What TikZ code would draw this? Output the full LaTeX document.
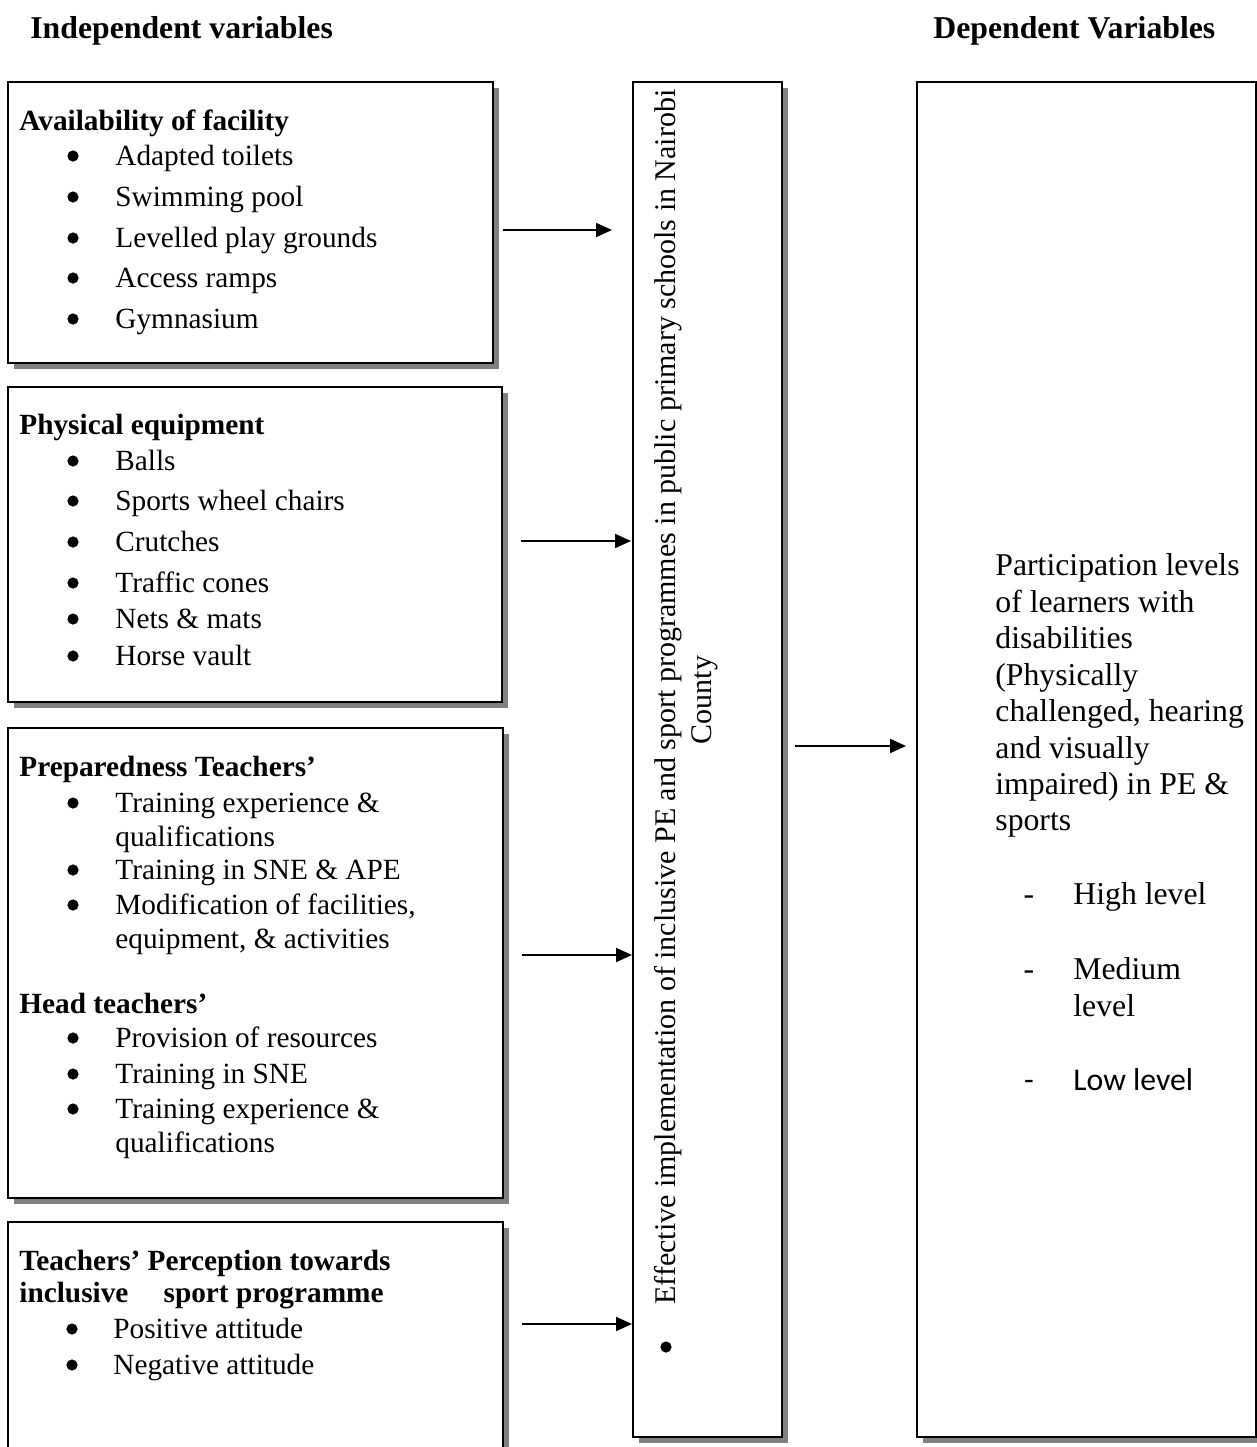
\documentclass[tikz,border=0pt]{standalone}
\usepackage{fontspec}
\setmainfont{Liberation Serif}
\newfontfamily\calfont{Carlito}
\usetikzlibrary{arrows.meta,shadows,fit}
\newcommand\fsA{\fontsize{14.65}{17}\selectfont}
\newcommand\fsB{\fontsize{15.87}{18}\selectfont}
\newcommand\fsV{\fontsize{15.0}{18}\selectfont}
\tikzset{
  box/.style={draw=black, line width=1.1pt, fill=white, inner sep=0pt,
    drop shadow={shadow xshift=3pt, shadow yshift=-3pt, fill=black!50, opacity=1}},
  txt/.style={anchor=base west, inner sep=0pt, font=\fsA},
  hd/.style={anchor=base west, inner sep=0pt, font=\fsA\bfseries},
  rtxt/.style={anchor=base west, inner sep=0pt, font=\fsB},
  bul/.style={circle, fill=black, inner sep=0pt, minimum size=5.6pt},
  arr/.style={line width=1pt, -{Triangle[length=8pt,width=7pt]}},
}
\begin{document}
\begin{tikzpicture}[x=0.5pt, y=-0.5pt]
\clip (0,0) rectangle (1257,1447);
\fill[white] (0,0) rectangle (1257,1447);
% titles
\node[anchor=base west, inner sep=0pt, font=\fsB\bfseries] (tl) at (30,38) {Independent variables};
\node[anchor=base west, inner sep=0pt, font=\fsB\bfseries] (tr) at (933,38) {Dependent Variables};
% boxes
\node[box, fit={(8,82) (493,363)}] (b1) {};
\node[box, fit={(8,387) (502,702)}] (b2) {};
\node[box, fit={(8,728) (503,1198)}] (b3) {};
\node[box, fit={(8,1222) (503,1480)}] (b4) {};
\node[box, fit={(633,82) (782,1437)}] (m) {};
\node[box, fit={(917,82) (1256,1437)}] (r) {};
% box 1
\node[hd] (h1) at (19,130) {Availability of facility};
\node[txt] (i11) at (115,165) {Adapted toilets};
\node[txt] (i12) at (115,206) {Swimming pool};
\node[txt] (i13) at (115,247) {Levelled play grounds};
\node[txt] (i14) at (115,287) {Access ramps};
\node[txt] (i15) at (115,328) {Gymnasium};
\node[bul] (d11) at (73,156) {};
\node[bul] (d12) at (73,197) {};
\node[bul] (d13) at (73,238) {};
\node[bul] (d14) at (73,278) {};
\node[bul] (d15) at (73,319) {};
% box 2
\node[hd] (h2) at (19,434) {Physical equipment};
\node[txt] (i21) at (115,470) {Balls};
\node[txt] (i22) at (115,510) {Sports wheel chairs};
\node[txt] (i23) at (115,551) {Crutches};
\node[txt] (i24) at (115,592) {Traffic cones};
\node[txt] (i25) at (115,628) {Nets \& mats};
\node[txt] (i26) at (115,665) {Horse vault};
\node[bul] (d21) at (73,461) {};
\node[bul] (d22) at (73,501) {};
\node[bul] (d23) at (73,542) {};
\node[bul] (d24) at (73,583) {};
\node[bul] (d25) at (73,619) {};
\node[bul] (d26) at (73,656) {};
% box 3
\node[hd] (h3) at (19,776) {Preparedness Teachers’};
\node[txt] (i31) at (115,812) {Training experience \&};
\node[txt] (i31b) at (115,846) {qualifications};
\node[txt] (i32) at (115,879) {Training in SNE \& APE};
\node[txt] (i33) at (115,914) {Modification of facilities,};
\node[txt] (i33b) at (115,948) {equipment, \& activities};
\node[bul] (d31) at (73,803) {};
\node[bul] (d32) at (73,870) {};
\node[bul] (d33) at (73,905) {};
\node[hd] (h3b) at (19,1013) {Head teachers’};
\node[txt] (i34) at (115,1047) {Provision of resources};
\node[txt] (i35) at (115,1083) {Training in SNE};
\node[txt] (i36) at (115,1118) {Training experience \&};
\node[txt] (i36b) at (115,1152) {qualifications};
\node[bul] (d34) at (73,1038) {};
\node[bul] (d35) at (73,1074) {};
\node[bul] (d36) at (73,1109) {};
% box 4
\node[hd] (h4) at (19,1270) {Teachers’ Perception towards};
\node[hd] (h4b) at (19,1302) {inclusive\hspace{1.2em}sport programme};
\node[txt] (i41) at (113,1338) {Positive attitude};
\node[txt] (i42) at (113,1374) {Negative attitude};
\node[bul] (d41) at (72,1329) {};
\node[bul] (d42) at (72,1365) {};
% middle box text
\node[rotate=90, anchor=base west, inner sep=0pt, font=\fsV] (mt1) at (675,1305)
  {Effective implementation of inclusive PE and sport programmes in public primary schools in Nairobi};
\node[rotate=90, anchor=base, inner sep=0pt, font=\fsV] (mt2) at (711,700) {County};
\node[bul] (md) at (666,1347) {};
% right box text
\node[rtxt] (r1) at (995,575) {Participation levels};
\node[rtxt] (r2) at (995,612) {of learners with};
\node[rtxt] (r3) at (995,648) {disabilities};
\node[rtxt] (r4) at (995,685) {(Physically};
\node[rtxt] (r5) at (995,721) {challenged, hearing};
\node[rtxt] (r6) at (995,758) {and visually};
\node[rtxt] (r7) at (995,794) {impaired) in PE \&};
\node[rtxt] (r8) at (995,830) {sports};
\node[rtxt, anchor=base] (rd1) at (1029,904) {-};
\node[rtxt] (r9) at (1073,904) {High level};
\node[rtxt, anchor=base] (rd2) at (1029,979) {-};
\node[rtxt] (r10) at (1073,979) {Medium};
\node[rtxt] (r11) at (1073,1016) {level};
\node[anchor=base, inner sep=0pt, font=\fsB\calfont] (rd3) at (1029,1090) {-};
\node[anchor=base west, inner sep=0pt, font=\fsB\calfont] (r12) at (1073,1090) {Low level};
% arrows
\coordinate (a1s) at (503,230); \coordinate (a1e) at (612,230);
\coordinate (a2s) at (521,541); \coordinate (a2e) at (631,541);
\coordinate (a3s) at (522,955); \coordinate (a3e) at (632,955);
\coordinate (a4s) at (522,1324); \coordinate (a4e) at (632,1324);
\coordinate (a5s) at (795,746); \coordinate (a5e) at (906,746);
\draw[arr] (a1s) -- (a1e);
\draw[arr] (a2s) -- (a2e);
\draw[arr] (a3s) -- (a3e);
\draw[arr] (a4s) -- (a4e);
\draw[arr] (a5s) -- (a5e);
\end{tikzpicture}
\end{document}
